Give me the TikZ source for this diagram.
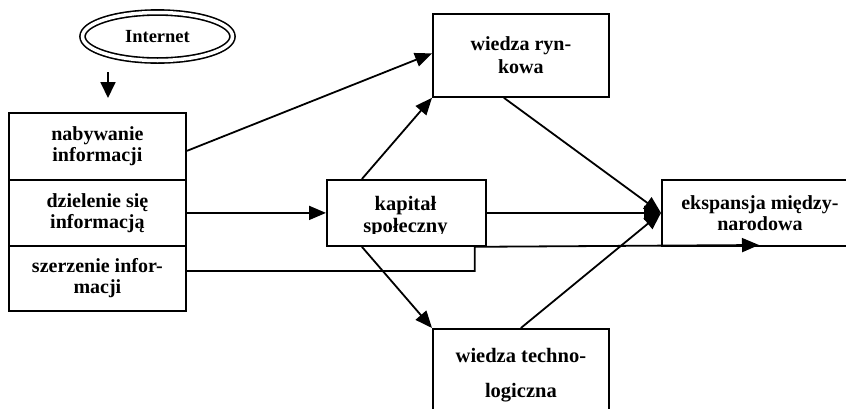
\documentclass[tikz,border=0pt]{standalone}
\usepackage{fontspec}
\setmainfont{Liberation Serif}
\usetikzlibrary{arrows.meta,shapes.geometric,calc}
\tikzset{
  boxnode/.style={draw, line width=1.8pt, inner sep=0pt, anchor=north west, align=center,
    font=\fontsize{20}{21}\selectfont\bfseries},
  txt/.style={inner sep=0pt, align=center, font=\fontsize{20.5}{22}\selectfont\bfseries},
  arr/.style={line width=1.8pt, -{Triangle[length=17pt,width=14pt]}},
}
\begin{document}
\begin{tikzpicture}[x=1pt,y=-1pt]
\useasboundingbox (0,0) rectangle (846,408);
\clip (0,0) rectangle (846,408);
% Internet
\node[ellipse, draw, double, double distance=3.5pt, line width=1.6pt, minimum width=150pt, minimum height=48pt,
  inner sep=0pt, font=\fontsize{18.5}{20}\selectfont\bfseries] (inet) at (157.5,36.5) {Internet};
\coordinate (ia) at (108,72);
\coordinate (ib) at (108,98);
\draw[line width=1.8pt, -{Triangle[length=16pt,width=15pt]}] (ia) -- (ib);
% left boxes
\node[boxnode, minimum width=177pt, minimum height=67pt] (nab) at (8,112) {nabywanie\\informacji};
\node[boxnode, minimum width=177pt, minimum height=66pt] (dz) at (8,179) {dzielenie się\\informacją};
\node[boxnode, minimum width=177pt, minimum height=65pt] (sz) at (8,245) {szerzenie infor-\\macji};
% kapital
\node[boxnode, minimum width=159pt, minimum height=66pt] (kap) at (326,179) {};
\begin{scope}
\clip (326,179) rectangle (485,233);
\node[txt] (kaptxt) at (405.5,217) {kapitał\\społeczny};
\end{scope}
% wiedza rynkowa
\node[boxnode, minimum width=176pt, minimum height=83pt, font=\fontsize{20}{23}\selectfont\bfseries] (wr) at (432,13) {wiedza ryn-\\kowa};
% wiedza technologiczna
\node[boxnode, minimum width=176pt, minimum height=92pt, font=\fontsize{20.5}{35}\selectfont\bfseries] (wt) at (432,328) {wiedza techno-\\logiczna};
% ekspansja
\node[boxnode, minimum width=196pt, minimum height=66pt] (ek) at (661,179) {ekspansja między-\\narodowa};
\coordinate (tip) at (759,245);
% connectors
\draw[arr] ([yshift=-4.5pt]nab.east) -- ([yshift=2pt]wr.west);
\draw[arr] (dz.east) -- (kap.west);
\draw[arr] ([yshift=7.5pt]sz.east) -| ([xshift=-12pt]kap.south east) -- (tip);
\draw[arr] ([xshift=-44.5pt]kap.north) -- (wr.south west);
\draw[arr] ([xshift=-44.5pt]kap.south) -- (wt.north west);
\draw[arr] (kap.east) -- (ek.west);
\draw[arr] ([xshift=-17pt]wr.south) -- (ek.west);
\draw[arr] (wt.north) -- (ek.west);
\end{tikzpicture}
\end{document}
